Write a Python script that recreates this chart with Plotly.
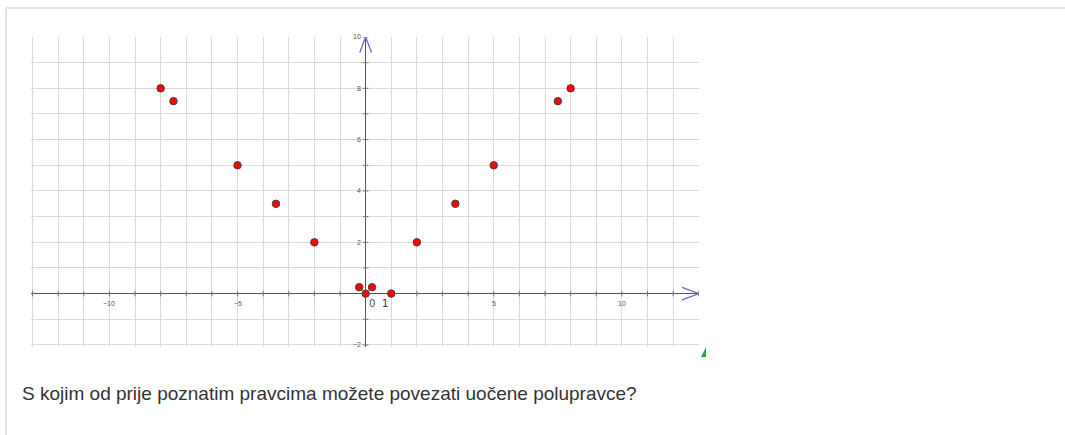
import numpy as np
import plotly.graph_objects as go

# Points plotted on the coordinate grid
point_x = [-8, -7.5, -5, -3.5, -2, -0.25, 0, 0.25, 1, 2, 3.5, 5, 7.5, 8]
point_y = [8, 7.5, 5, 3.5, 2, 0.25, 0, 0.25, 0, 2, 3.5, 5, 7.5, 8]

# Axis tick labels
x_tick_vals = [-10, -5, 5, 10]
x_tick_text = ["\u221210", "\u22125", "5", "10"]
y_tick_vals = [-2, 2, 4, 6, 8, 10]
y_tick_text = ["\u22122", "2", "4", "6", "8", "10"]

question = "S kojim od prije poznatim pravcima možete povezati uočene polupravce?"

X_RANGE = [-13.06, 13.01]
Y_RANGE = [-2.08, 10.0]
W, H = 1065, 435

fig = go.Figure()

# small tick marks along both axes at every integer
tx = np.arange(-13, 14)
tx = tx[tx != 0]
ty = np.arange(-2, 11)
ty = ty[ty != 0]
fig.add_trace(go.Scatter(x=tx, y=np.zeros_like(tx), mode="markers",
                         marker=dict(symbol="line-ns", size=4,
                                     line=dict(color="#777", width=1)),
                         hoverinfo="skip"))
fig.add_trace(go.Scatter(x=np.zeros_like(ty), y=ty, mode="markers",
                         marker=dict(symbol="line-ew", size=4,
                                     line=dict(color="#777", width=1)),
                         hoverinfo="skip"))

fig.add_trace(go.Scatter(
    x=point_x, y=point_y, mode="markers",
    marker=dict(color="#ff0000", size=7.5, line=dict(color="#444", width=1)),
    hoverinfo="x+y",
))

axis_common = dict(showgrid=True, gridcolor="#dadada", gridwidth=1, dtick=1,
                   tick0=0, showticklabels=False, ticks="", zeroline=True,
                   zerolinecolor="#555", zerolinewidth=1.3, showline=False,
                   fixedrange=True)
fig.update_xaxes(range=X_RANGE, domain=[31 / W, 699 / W], **axis_common)
fig.update_yaxes(range=Y_RANGE, domain=[1 - 347 / H, 1 - 37 / H], **axis_common)

ann = []
for v, t in zip(x_tick_vals, x_tick_text):
    ann.append(dict(x=v, y=0, xref="x", yref="y", text=t, showarrow=False,
                    yshift=-10, font=dict(size=7, color="#555",
                                          family="Liberation Sans")))
for v, t in zip(y_tick_vals, y_tick_text):
    ann.append(dict(x=0, y=v, xref="x", yref="y", text=t, showarrow=False,
                    xanchor="right", xshift=-3, font=dict(size=7, color="#555",
                                                          family="Liberation Sans")))
# origin and unit labels
ann.append(dict(x=0, y=0, xref="x", yref="y", text="0", showarrow=False,
                xshift=6, yshift=-10, font=dict(size=10, color="#4a5a6a",
                                                family="DejaVu Sans")))
ann.append(dict(x=1, y=0, xref="x", yref="y", text="1", showarrow=False,
                xshift=-6, yshift=-10, font=dict(size=10, color="#333",
                                                 family="DejaVu Sans")))
ann.append(dict(x=20 / W, y=1 - 393 / H, xref="paper", yref="paper",
                text=question, showarrow=False, xanchor="left", yanchor="middle",
                font=dict(size=19, color="#333", family="Liberation Sans")))

shapes = [
    # frame of the page
    dict(type="line", xref="paper", yref="paper", x0=6 / W, x1=1, y0=1 - 8 / H,
         y1=1 - 8 / H, line=dict(color="#e2e2e2", width=2)),
    dict(type="line", xref="paper", yref="paper", x0=6 / W, x1=6 / W,
         y0=0, y1=1 - 8 / H, line=dict(color="#e2e2e2", width=2)),
    # axis arrowheads
    dict(type="path", xref="x", yref="y",
         path=f"M -0.23 9.4 L 0 {Y_RANGE[1]} L 0.23 9.4",
         line=dict(color="#6a6ac8", width=1.3)),
    dict(type="path", xref="x", yref="y",
         path=f"M 12.35 0.24 L {X_RANGE[1]} 0 L 12.35 -0.24",
         line=dict(color="#6a6ac8", width=1.3)),
    # resize handle
    dict(type="path", xref="paper", yref="paper",
         path=f"M {701/W} {1-357/H} L {706/W} {1-357/H} L {706/W} {1-347/H} Z",
         fillcolor="#1fae4a", line=dict(width=0)),
]

fig.update_layout(width=W, height=H, margin=dict(l=0, r=0, t=0, b=0),
                  paper_bgcolor="white", plot_bgcolor="white",
                  showlegend=False, annotations=ann, shapes=shapes)

fig.write_html("out.html", config={"displayModeBar": False})
